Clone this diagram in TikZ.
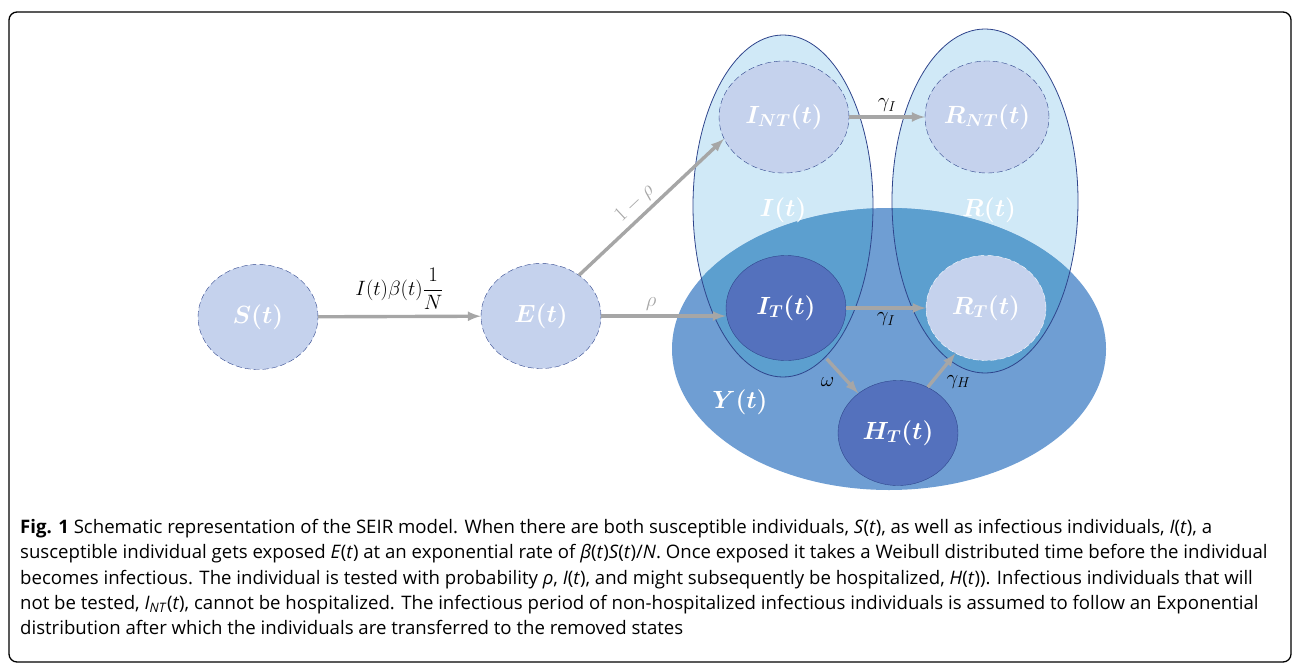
\documentclass[tikz,border=0pt]{standalone}
\usepackage{amsmath}
\usepackage{fontspec}
\newfontfamily\capfont{Open Sans}
\usetikzlibrary{arrows,shapes.geometric}
\definecolor{navy}{RGB}{47,69,140}
\definecolor{pale}{RGB}{208,233,247}
\definecolor{ybl}{RGB}{111,158,211}
\definecolor{ovl}{RGB}{92,159,207}
\definecolor{lav}{RGB}{197,210,237}
\definecolor{dark}{RGB}{84,113,189}
\definecolor{flowgray}{RGB}{166,166,166}
\tikzset{
  state/.style={ellipse,draw=navy,dash pattern=on 6pt off 3pt,fill=lav,text=white,
    minimum width=120pt,minimum height=105pt,inner sep=0pt,
    font=\fontsize{25}{29}\selectfont},
  tested/.style={state,solid,fill=dark},
  flow/.style={draw=flowgray,line width=3.4pt},
  rate/.style={text=black,font=\fontsize{20}{24}\selectfont},
  group/.style={text=white,font=\fontsize{25}{29}\selectfont}
}
\begin{document}
\begin{tikzpicture}[->,>=latex,x=1pt,y=-1pt]
\useasboundingbox (0,0) rectangle (1293,664);
\draw[-,line width=1.3pt,rounded corners=8pt] (9,12) rectangle (1291,662);
\fill[pale] (783,206) ellipse [x radius=90pt,y radius=171pt];
\fill[pale] (985,201) ellipse [x radius=93pt,y radius=172pt];
\fill[ybl] (889,349) ellipse [x radius=217pt,y radius=141pt];
\begin{scope}
  \clip (889,349) ellipse [x radius=217pt,y radius=141pt];
  \fill[ovl] (783,206) ellipse [x radius=90pt,y radius=171pt];
  \fill[ovl] (985,201) ellipse [x radius=93pt,y radius=172pt];
\end{scope}
\draw[-,navy,line width=0.8pt] (783,206) ellipse [x radius=90pt,y radius=171pt];
\draw[-,navy,line width=0.8pt] (985,201) ellipse [x radius=93pt,y radius=172pt];
\node[group] (Ilab) at (783,210) {$\boldsymbol{I(t)}$};
\node[group] (Rlab) at (989,210) {$\boldsymbol{R(t)}$};
\node[group] (Ylab) at (740,402) {$\boldsymbol{Y(t)}$};
\node[state] (S) at (258,317) {$\boldsymbol{S(t)}$};
\node[state] (E) at (541,316) {$\boldsymbol{E(t)}$};
\node[state,minimum width=130pt,minimum height=112pt] (INT) at (784,117) {$\boldsymbol{I_{NT}(t)}$};
\node[state,minimum width=124pt,minimum height=112pt] (RNT) at (987,117) {$\boldsymbol{R_{NT}(t)}$};
\node[tested] (IT) at (786,308) {$\boldsymbol{I_T(t)}$};
\node[state,draw=white] (RT) at (986,308) {$\boldsymbol{R_T(t)}$};
\node[tested] (HT) at (898,433) {$\boldsymbol{H_T(t)}$};
\draw[flow] (S) -- node[rate,above,yshift=2pt] {$I(t)\beta(t)\dfrac{1}{N}$} (E);
\draw[flow] (E.47) -- node[rate,sloped,above,pos=0.45,text=flowgray] {$1-\rho$} (INT.200);
\draw[flow] (E.east) -- node[rate,above,pos=0.4,text=flowgray] {$\rho$} (E.east -| IT.west);
\draw[flow] (INT) -- node[rate,above] {$\gamma_I$} (RNT);
\draw[flow] (IT) -- node[rate,below] {$\gamma_I$} (RT);
\draw[flow,shorten <=10pt] (IT.-52) -- node[rate,below left] {$\omega$} (HT.135);
\draw[flow] (HT.57) -- node[rate,below right] {$\gamma_H$} (RT.236);
\node[anchor=north west,inner sep=0pt,align=left,font=\capfont\fontsize{18.6}{25.3}\selectfont] (caption) at (20,519)
{\textbf{Fig. 1} Schematic representation of the SEIR model. When there are both susceptible individuals, \textit{S}(\textit{t}), as well as infectious individuals, \textit{I}(\textit{t}), a\\
susceptible individual gets exposed \textit{E}(\textit{t}) at an exponential rate of \textit{β}(\textit{t})\textit{S}(\textit{t})/\textit{N}. Once exposed it takes a Weibull distributed time before the individual\\
becomes infectious. The individual is tested with probability \textit{ρ}, \textit{I}(\textit{t}), and might subsequently be hospitalized, \textit{H}(\textit{t})). Infectious individuals that will\\
not be tested, \textit{I}\textsubscript{\textit{NT}}(\textit{t}), cannot be hospitalized. The infectious period of non-hospitalized infectious individuals is assumed to follow an Exponential\\
distribution after which the individuals are transferred to the removed states};
\end{tikzpicture}
\end{document}
